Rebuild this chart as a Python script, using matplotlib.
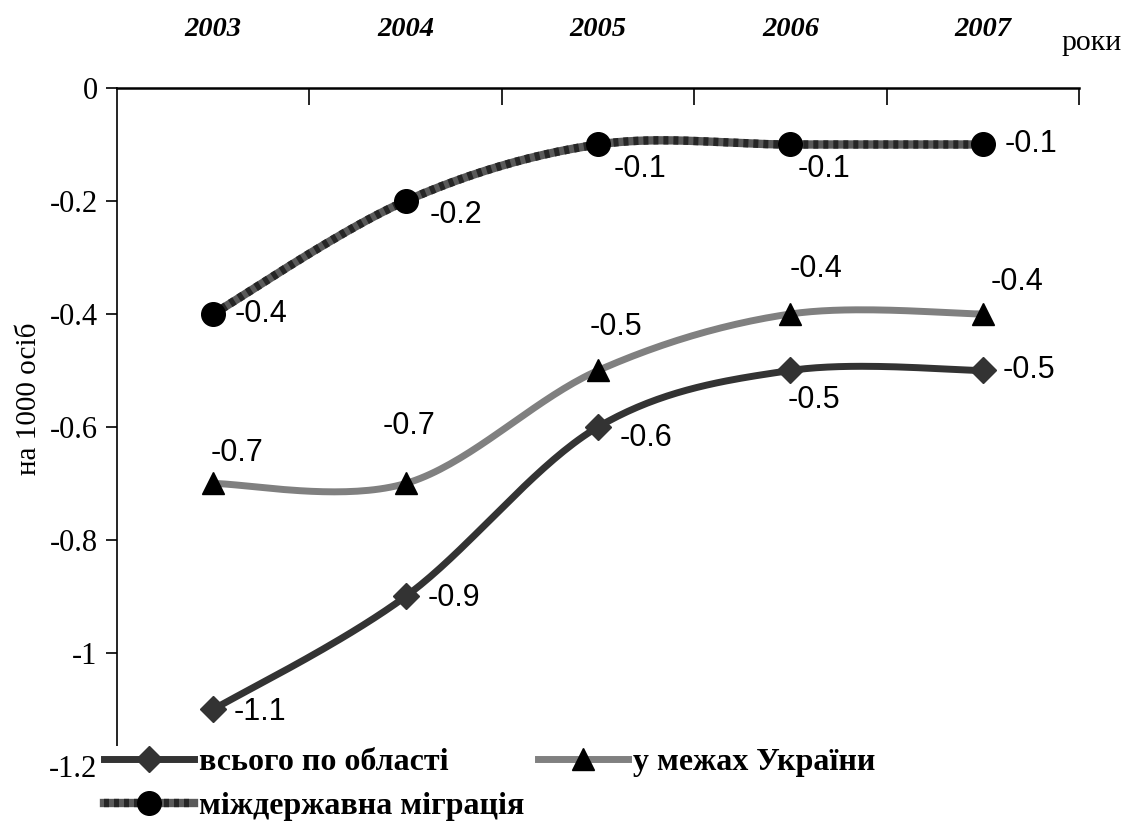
import numpy as np
import matplotlib.pyplot as plt
from matplotlib.lines import Line2D

years = ['2003', '2004', '2005', '2006', '2007']
total = [-1.1, -0.9, -0.6, -0.5, -0.5]        # всього по області
ukraine = [-0.7, -0.7, -0.5, -0.4, -0.4]      # у межах України
interstate = [-0.4, -0.2, -0.1, -0.1, -0.1]   # міждержавна міграція

serif = ['Liberation Serif', 'DejaVu Serif']
sans = ['Liberation Sans', 'DejaVu Sans']


def smooth(x, y, n=40):
    # Excel-like smoothed line (Catmull-Rom / Bezier)
    x = np.asarray(x, float)
    y = np.asarray(y, float)
    px = np.concatenate([[x[0]], x, [x[-1]]])
    py = np.concatenate([[y[0]], y, [y[-1]]])
    xs, ys = [], []
    t = np.linspace(0, 1, n)
    for i in range(1, len(px) - 2):
        p0 = np.array([px[i], py[i]])
        p3 = np.array([px[i + 1], py[i + 1]])
        p1 = p0 + (np.array([px[i + 1], py[i + 1]]) - np.array([px[i - 1], py[i - 1]])) / 6
        p2 = p3 - (np.array([px[i + 2], py[i + 2]]) - np.array([px[i], py[i]])) / 6
        b = ((1 - t) ** 3)[:, None] * p0 + (3 * (1 - t) ** 2 * t)[:, None] * p1 \
            + (3 * (1 - t) * t ** 2)[:, None] * p2 + (t ** 3)[:, None] * p3
        xs.extend(b[:, 0])
        ys.extend(b[:, 1])
    return np.array(xs), np.array(ys)


fig = plt.figure(figsize=(11.35, 8.27), dpi=100)
ax = fig.add_axes([0.1031, 0.0738, 0.8476, 0.8198])
x = np.arange(len(years))

# interstate migration (striped dark line)
sx, sy = smooth(x, interstate)
ax.plot(sx, sy, color='#5a5a5a', lw=6, solid_capstyle='butt', zorder=2)
ax.plot(sx, sy, color='#262626', lw=6, dashes=(0.6, 0.6), zorder=2)
ax.plot(x, interstate, 'o', color='black', ms=17, zorder=4)

sx, sy = smooth(x, ukraine)
ax.plot(sx, sy, color='#808080', lw=5, zorder=2)
ax.plot(x, ukraine, '^', color='black', ms=16, zorder=4)

sx, sy = smooth(x, total)
ax.plot(sx, sy, color='#333333', lw=5, zorder=3)
ax.plot(x, total, 'D', color='#333333', ms=13, zorder=4)

fs = 22
# data labels (pixel offsets, alignment)
total_off = [(20, -3, 'left'), (22, -2, 'left'), (22, -11, 'left'), (24, -30, 'center'), (20, 0, 'left')]
ukr_off = [(24, 30, 'center'), (3, 57, 'center'), (18, 43, 'center'), (26, 45, 'center'), (34, 32, 'center')]
int_off = [(21, 0, 'left'), (24, -14, 'left'), (42, -25, 'center'), (34, -25, 'center'), (22, 0, 'left')]
for vals, offs in [(total, total_off), (ukraine, ukr_off), (interstate, int_off)]:
    for xi, v, (dx, dy, ha) in zip(x, vals, offs):
        ax.annotate(f'{v:g}', (xi, v), xytext=(dx, dy), textcoords='offset pixels',
                    ha=ha, va='center', fontsize=fs, family=sans, zorder=5)

ax.set_xlim(-0.5, 4.5)
ax.set_ylim(-1.2, 0)
ax.set_yticks(np.arange(-1.2, 0.01, 0.2))
ax.set_yticklabels(['-1.2', '-1', '-0.8', '-0.6', '-0.4', '-0.2', '0'], family=serif, fontsize=22)
ax.tick_params(axis='y', direction='out', length=8, width=1.2, pad=6)
ax.set_ylabel('на 1000 осіб', family=serif, fontsize=21)
ax.yaxis.set_label_coords(-0.078, 0.541)

ax.xaxis.tick_top()
ax.set_xticks(np.arange(0.5, 4.6, 1))
ax.set_xticklabels([])
ax.tick_params(axis='x', which='major', direction='in', length=12, width=1.2, top=True, bottom=False)
ax.set_xticks(x, minor=True)
ax.set_xticklabels(years, minor=True, family=serif, fontsize=20.5, fontweight='bold', style='italic')
ax.tick_params(axis='x', which='minor', length=0, pad=33, top=True, bottom=False)
fig.text(0.962, 0.948, 'роки', family=serif, fontsize=21.5, ha='center', va='center')

for s in ['right', 'bottom']:
    ax.spines[s].set_visible(False)
ax.spines['left'].set_linewidth(1.2)
ax.spines['top'].set_linewidth(1.8)

# legend
h_total = Line2D([], [], color='#333333', lw=5, marker='D', ms=13)
h_ukr = Line2D([], [], color='#808080', lw=5, marker='^', ms=16, mfc='black', mec='black')
h_int = (Line2D([], [], color='#5a5a5a', lw=6),
         Line2D([], [], color='#262626', lw=6, dashes=(0.6, 0.6)),
         Line2D([], [], ls='none', marker='o', color='black', ms=17))
leg = fig.legend([h_total, h_int, h_ukr],
                 ['всього по області', 'міждержавна міграція', 'у межах України'],
                 loc='center left', bbox_to_anchor=(0.0905, 0.0514), ncol=2,
                 frameon=True, facecolor='white', edgecolor='none', framealpha=1,
                 handlelength=2.8, handletextpad=0.15, columnspacing=0.45,
                 labelspacing=0.45, borderpad=0.05, borderaxespad=0,
                 prop={'family': serif, 'size': 23, 'weight': 'bold'})
leg.set_zorder(10)

fig.savefig('out.png', dpi=100)
